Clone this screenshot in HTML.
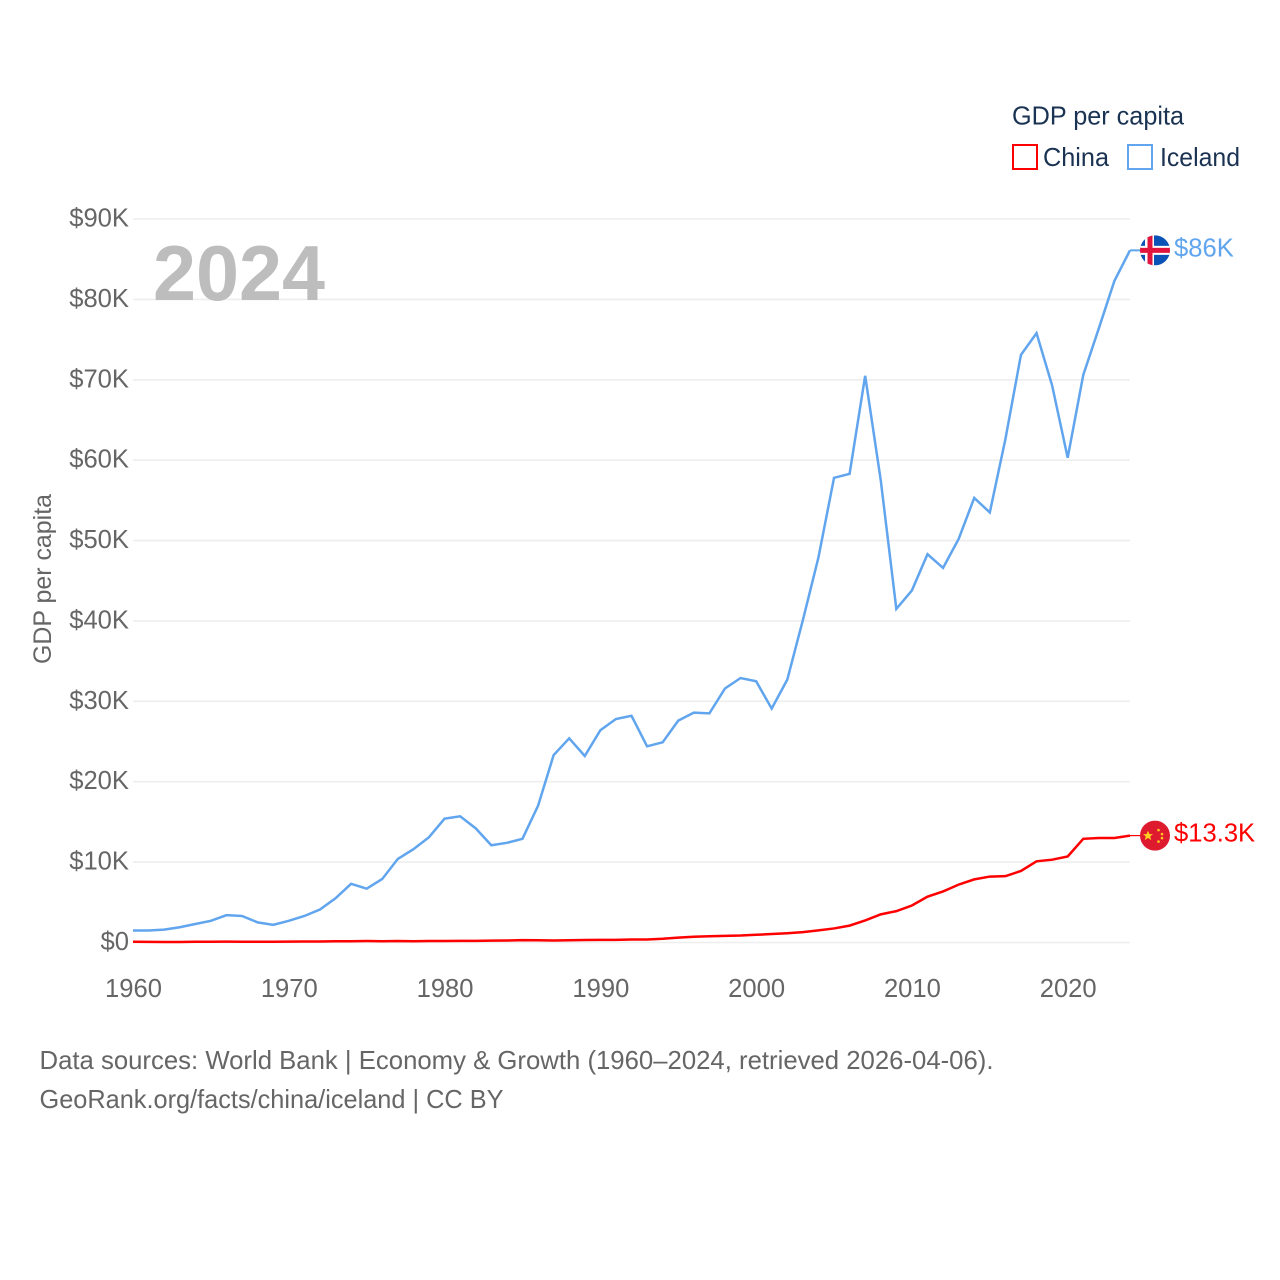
<!DOCTYPE html>
<html lang="en">
<head>
<meta charset="utf-8">
<title>GDP per capita: China and Iceland</title>
<style>
  html, body { margin: 0; padding: 0; background: #fff; }
  svg { display: block; font-family: "Liberation Sans", sans-serif; }
</style>
</head>
<body>
<svg id="chart" xmlns="http://www.w3.org/2000/svg" width="1280" height="1280" viewBox="0 0 1280 1280">
  <rect width="1280" height="1280" fill="#fff"/>
  <g id="grid"></g>
  <g id="yticks"></g>
  <g id="xticks"></g>
  <text x="153" y="300" font-size="78" font-weight="700" fill="#bdbdbd" textLength="172" lengthAdjust="spacingAndGlyphs">2024</text>
  <text transform="translate(51 664) rotate(-90)" font-size="25" fill="#666" textLength="170" lengthAdjust="spacingAndGlyphs">GDP per capita</text>
  <g id="series"></g>

  <g>
    <text x="1012" y="124.5" font-size="26" fill="#1b3352" textLength="172" lengthAdjust="spacingAndGlyphs">GDP per capita</text>
    <g>
      <rect x="1013" y="145" width="24" height="24" fill="#fff" stroke="#ff0000" stroke-width="2"/>
      <text x="1043" y="166" font-size="26" fill="#1b3352" textLength="66" lengthAdjust="spacingAndGlyphs">China</text>
    </g>
    <g>
      <rect x="1128" y="145" width="24" height="24" fill="#fff" stroke="#60a5ee" stroke-width="2"/>
      <text x="1160" y="166" font-size="26" fill="#1b3352" textLength="80" lengthAdjust="spacingAndGlyphs">Iceland</text>
    </g>
  </g>

  <defs>
    <clipPath id="flag-clip"><circle cx="0" cy="0" r="15"/></clipPath>
  </defs>
  <g id="iceland-flag">
    <g clip-path="url(#flag-clip)">
      <rect x="-15" y="-15" width="30" height="30" fill="#0a52b5"/>
      <rect x="-10" y="-15" width="9" height="30" fill="#fff"/>
      <rect x="-15" y="-4.5" width="30" height="9" fill="#fff"/>
      <rect x="-7.5" y="-15" width="5" height="30" fill="#e0143c"/>
      <rect x="-15" y="-2.5" width="30" height="5" fill="#e0143c"/>
    </g>
  </g>
  <g id="china-flag">
    <g clip-path="url(#flag-clip)">
      <rect x="-15" y="-15" width="30" height="30" fill="#de1a2e"/>
      <polygon points="-7,-5 -5.6,-1.5 -2,-1.5 -4.8,0.8 -3.8,4.5 -7,2.3 -10.2,4.5 -9.2,0.8 -12,-1.5 -8.4,-1.5" fill="#ffd21f"/>
      <circle cx="3.5" cy="-5.5" r="1.3" fill="#ffc51f"/>
      <circle cx="7" cy="-1.5" r="1.3" fill="#ffc51f"/>
      <circle cx="7" cy="2.5" r="1.3" fill="#ffc51f"/>
      <circle cx="3.5" cy="6" r="1.3" fill="#ffc51f"/>
    </g>
  </g>
  <g id="endlabels"></g>

  <g font-size="26" fill="#666">
    <text x="39.5" y="1069" textLength="954" lengthAdjust="spacingAndGlyphs">Data sources: World Bank | Economy &amp; Growth (1960–2024, retrieved 2026-04-06).</text>
    <text x="39.5" y="1108" textLength="464" lengthAdjust="spacingAndGlyphs">GeoRank.org/facts/china/iceland | CC BY</text>
  </g>
</svg>
<script>
const years = [1960,1961,1962,1963,1964,1965,1966,1967,1968,1969,1970,1971,1972,1973,1974,1975,1976,1977,1978,1979,1980,1981,1982,1983,1984,1985,1986,1987,1988,1989,1990,1991,1992,1993,1994,1995,1996,1997,1998,1999,2000,2001,2002,2003,2004,2005,2006,2007,2008,2009,2010,2011,2012,2013,2014,2015,2016,2017,2018,2019,2020,2021,2022,2023,2024];
const icelandValues = [1.5,1.5,1.6,1.9,2.3,2.7,3.4,3.3,2.5,2.2,2.7,3.3,4.1,5.5,7.3,6.7,7.9,10.4,11.6,13.1,15.4,15.7,14.2,12.1,12.4,12.9,17.0,23.3,25.4,23.2,26.4,27.8,28.2,24.4,24.9,27.6,28.6,28.5,31.6,32.9,32.5,29.1,32.7,40.1,47.9,57.8,58.3,70.5,57.5,41.5,43.8,48.3,46.6,50.2,55.3,53.5,62.6,73.1,75.8,69.3,60.3,70.6,76.4,82.3,86.1];
const chinaValues = [0.09,0.08,0.07,0.07,0.09,0.10,0.11,0.10,0.09,0.10,0.11,0.12,0.13,0.16,0.16,0.18,0.16,0.19,0.16,0.18,0.19,0.20,0.20,0.23,0.25,0.29,0.28,0.25,0.28,0.31,0.32,0.33,0.37,0.38,0.47,0.61,0.71,0.78,0.83,0.87,0.96,1.05,1.15,1.29,1.51,1.75,2.10,2.75,3.5,3.9,4.6,5.7,6.35,7.2,7.85,8.2,8.25,8.9,10.1,10.3,10.7,12.9,13.0,13.0,13.3];
const yTickValues = [0,10,20,30,40,50,60,70,80,90];
const yTickLabels = ["$0","$10K","$20K","$30K","$40K","$50K","$60K","$70K","$80K","$90K"];
const xTickValues = [1960,1970,1980,1990,2000,2010,2020];
const xTickLabels = ["1960","1970","1980","1990","2000","2010","2020"];
const endValueLabels = ["$86K","$13.3K"];

const NS = "http://www.w3.org/2000/svg";
function xScale(year) { return 133 + (year - 1960) * (1130 - 133) / 64; }
function yScale(v) { return 942.5 - v * (942.5 - 219) / 90; }
function make(tag, parent) {
  const el = document.createElementNS(NS, tag);
  parent.appendChild(el);
  return el;
}
function linePoints(values) {
  return values.map((v, i) => xScale(years[i]).toFixed(2) + "," + yScale(v).toFixed(2)).join(" ");
}

const grid = document.getElementById("grid");
const yticks = document.getElementById("yticks");
yTickValues.forEach((v, i) => {
  const g = make("line", grid);
  
  
  g.setAttribute("x1", 133);
  g.setAttribute("x2", 1130);
  g.setAttribute("y1", yScale(v));
  g.setAttribute("y2", yScale(v));
  g.setAttribute("stroke", "#eeeeee");
  g.setAttribute("stroke-width", 1.6);

  const t = make("text", yticks);
  
  
  t.setAttribute("x", 129);
  t.setAttribute("y", yScale(v) + 7.5);
  t.setAttribute("text-anchor", "end");
  t.setAttribute("font-size", 25.6);
  t.setAttribute("fill", "#666");
  t.textContent = yTickLabels[i];
});

const xticks = document.getElementById("xticks");
xTickValues.forEach((yr, i) => {
  const t = make("text", xticks);
  
  
  t.setAttribute("x", xScale(yr) + 0.5);
  t.setAttribute("y", 997);
  t.setAttribute("text-anchor", "middle");
  t.setAttribute("font-size", 25.6);
  t.setAttribute("fill", "#666");
  t.textContent = xTickLabels[i];
});

const series = document.getElementById("series");
const flagX = 1155;
const lastYear = years[years.length - 1];

const iceLine = make("polyline", series);


iceLine.setAttribute("points", linePoints(icelandValues));
iceLine.setAttribute("fill", "none");
iceLine.setAttribute("stroke", "#60a5ee");
iceLine.setAttribute("stroke-width", 2.5);
iceLine.setAttribute("stroke-linejoin", "miter");

const chinaLine = make("polyline", series);


chinaLine.setAttribute("points", linePoints(chinaValues));
chinaLine.setAttribute("fill", "none");
chinaLine.setAttribute("stroke", "#ff0000");
chinaLine.setAttribute("stroke-width", 2.5);

const iceY = yScale(icelandValues[icelandValues.length - 1]);
const chinaY = yScale(chinaValues[chinaValues.length - 1]);

const iceStub = make("line", series);


iceStub.setAttribute("x1", xScale(lastYear));
iceStub.setAttribute("x2", flagX - 15);
iceStub.setAttribute("y1", iceY);
iceStub.setAttribute("y2", iceY);
iceStub.setAttribute("stroke", "#60a5ee");
iceStub.setAttribute("stroke-width", 2);

const chinaStub = make("line", series);


chinaStub.setAttribute("x1", xScale(lastYear));
chinaStub.setAttribute("x2", flagX - 15);
chinaStub.setAttribute("y1", chinaY);
chinaStub.setAttribute("y2", chinaY);
chinaStub.setAttribute("stroke", "#ff0000");
chinaStub.setAttribute("stroke-width", 1.2);

document.getElementById("iceland-flag").setAttribute("transform", "translate(" + flagX + " " + iceY + ")");
document.getElementById("china-flag").setAttribute("transform", "translate(" + flagX + " " + chinaY + ")");

const endlabels = document.getElementById("endlabels");
const iceLabel = make("text", endlabels);


iceLabel.setAttribute("x", 1174);
iceLabel.setAttribute("y", iceY + 6);
iceLabel.setAttribute("font-size", 25.6);
iceLabel.setAttribute("fill", "#60a5ee");
iceLabel.textContent = endValueLabels[0];

const chinaLabel = make("text", endlabels);


chinaLabel.setAttribute("x", 1174);
chinaLabel.setAttribute("y", chinaY + 6);
chinaLabel.setAttribute("font-size", 25.6);
chinaLabel.setAttribute("fill", "#ff0000");
chinaLabel.textContent = endValueLabels[1];
</script>
</body>
</html>
